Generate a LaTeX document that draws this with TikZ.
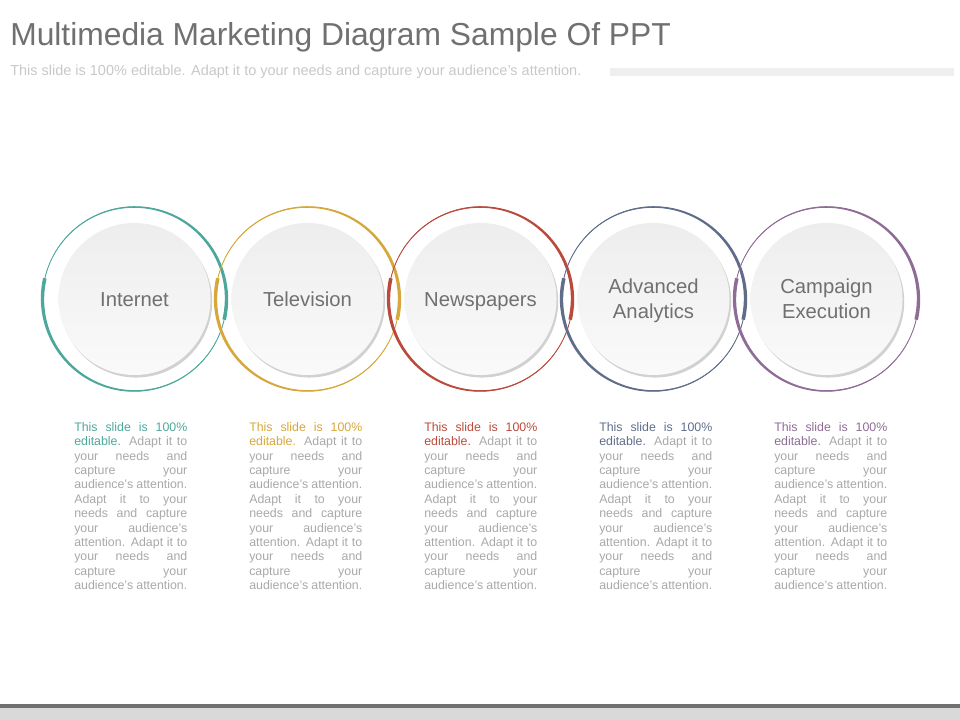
\documentclass[tikz,border=0pt]{standalone}
\usepackage{fontspec}
\setmainfont{Liberation Sans}
\usetikzlibrary{positioning, shadows}
\definecolor{RTEAL}{HTML}{4DA89B}
\definecolor{RGOLD}{HTML}{D6A73A}
\definecolor{RRED}{HTML}{B94A3C}
\definecolor{RSLATE}{HTML}{5F6D8B}
\definecolor{RPURPLE}{HTML}{8E6C95}
\definecolor{TXTGRAY}{HTML}{707070}
\definecolor{BODYGRAY}{HTML}{A8A8A8}
\definecolor{SUBGRAY}{HTML}{C8C8C8}
\definecolor{BARGRAY}{HTML}{EFEFEF}

% one justified line of the text blocks
\newlength{\bodyw}
\setlength{\bodyw}{2.825cm}
\newcommand{\jl}[1]{\makebox[\bodyw][s]{#1}}
\newcommand{\bodytext}[1]{%
  \jl{\color{#1}This slide is 100\%}\\
  \jl{{\color{#1}editable.} Adapt it to}\\
  \jl{your needs and}\\
  \jl{capture your}\\
  \jl{audience's attention.}\\
  \jl{Adapt it to your}\\
  \jl{needs and capture}\\
  \jl{your audience's}\\
  \jl{attention. Adapt it to}\\
  \jl{your needs and}\\
  \jl{capture your}\\
  \jl{audience's attention.}}

\begin{document}
\begin{tikzpicture}[x=0.025cm, y=0.025cm,
    title/.style={font=\fontsize{22.6}{26}\selectfont, text=TXTGRAY, inner sep=0},
    subtitle/.style={font=\fontsize{10.3}{12}\selectfont, text=SUBGRAY, inner sep=0},
    disc/.style={circle, minimum size=3.8cm, inner sep=0, align=center,
                 top color=black!7, bottom color=black!2, text=TXTGRAY,
                 font=\fontsize{14.4}{17.8}\selectfont, text depth=0pt,
                 drop shadow={shadow xshift=1.2pt, shadow yshift=-1.8pt, opacity=0.3, fill=black!60}},
    body/.style={anchor=north west, inner sep=0, align=left, text=BODYGRAY,
                 font=\fontsize{8.8}{10.25}\selectfont},
    thinring/.style={line width=0.6pt}
  ]
  \useasboundingbox (0,0) rectangle (960,720);

  % heading
  \node[title, anchor=base west] (title) at (10,674) {Multimedia Marketing Diagram Sample Of PPT};
  \node[subtitle, anchor=base west] (subtitle) at (10,644)
    {This slide is 100\% editable. Adapt it to your needs and capture your audience's attention.};
  \fill[BARGRAY] (610,644.3) rectangle (954,651.7);

  % circles with rings
  \foreach \i/\cx/\col/\lh/\txt in {1/134.5/RTEAL/10.3pt/Internet, 2/307.5/RGOLD/10.3pt/Television,
      3/480.5/RRED/10.3pt/Newspapers, 4/653.5/RSLATE/28.1pt/{Advanced\\Analytics},
      5/826.5/RPURPLE/28.1pt/{Campaign\\Execution}} {
    \node[disc, text height=\lh] (c\i) at (\cx,421) {\txt};
    \begin{scope}[shift={(c\i.center)}]
      \draw[\col, thinring] (0,0) circle[radius=92];
      \fill[\col] plot[domain=167:347, samples=60] (\x:{92+1.8*(347-\x)/180})
        -- plot[domain=347:167, samples=60] (\x:{92-1.8*(347-\x)/180}) -- cycle;
      \fill[\col] plot[domain=347:527, samples=60] (\x:{92+1.8*(527-\x)/180})
        -- plot[domain=527:347, samples=60] (\x:{92-1.8*(527-\x)/180}) -- cycle;
    \end{scope}
  }

  % text blocks
  \node[body] (t1) at (74,298) {\bodytext{RTEAL}};
  \node[body] (t2) at (249,298) {\bodytext{RGOLD}};
  \node[body] (t3) at (424,298) {\bodytext{RRED}};
  \node[body] (t4) at (599,298) {\bodytext{RSLATE}};
  \node[body] (t5) at (774,298) {\bodytext{RPURPLE}};

  % footer band
  \fill[black!56] (0,12) rectangle (960,16);
  \fill[black!15] (0,0) rectangle (960,12);
\end{tikzpicture}
\end{document}
